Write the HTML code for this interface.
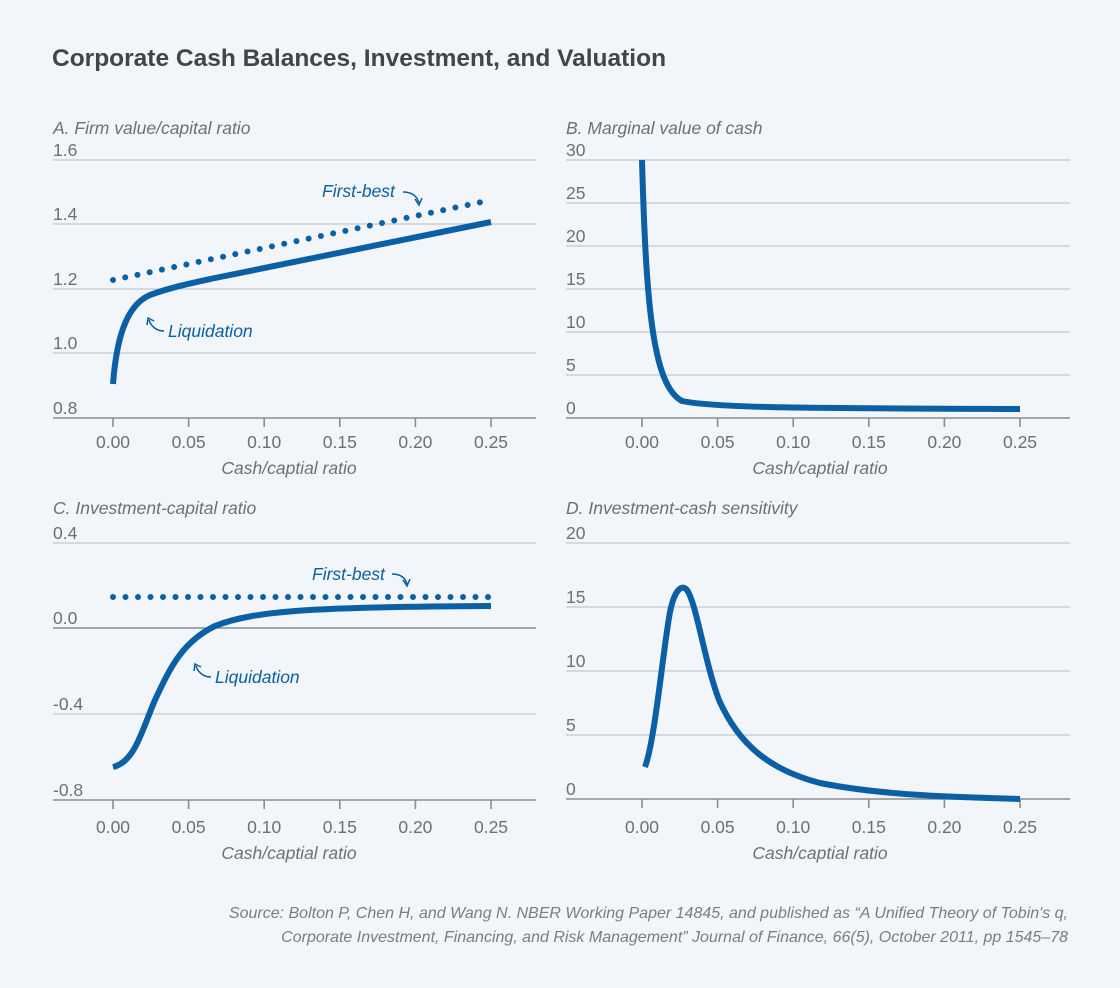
<!DOCTYPE html>
<html><head><meta charset="utf-8"><style>
body{margin:0;background:#f2f6fa;}
svg{display:block;font-family:"Liberation Sans",sans-serif;}
.g{stroke:#c4c7ca;stroke-width:1.3}
.ax{stroke:#8a8d90;stroke-width:1.6}
.t{fill:#6d7073;font-size:17.5px}
.it{fill:#6d7073;font-size:17.5px;font-style:italic}
.c{fill:none;stroke:#0b5fa5;stroke-width:6;stroke-linecap:butt}
.d{fill:none;stroke:#0b5fa5;stroke-width:6;stroke-linecap:round;stroke-dasharray:0 12.5}
.bl{fill:#0b5fa5;font-size:17.5px;font-style:italic}
.ar{fill:none;stroke:#0b5fa5;stroke-width:1.5}
</style></head><body>
<svg width="1120" height="988" viewBox="0 0 1120 988">
<rect width="1120" height="988" fill="#f2f6fa"/>
<text x="52" y="66" font-size="24.5" font-weight="bold" fill="#444">Corporate Cash Balances, Investment, and Valuation</text>

<!-- Panel A -->
<text x="53" y="134" class="it">A.  Firm value/capital ratio</text>
<g class="g"><line x1="53" y1="160" x2="536" y2="160"/><line x1="53" y1="224" x2="536" y2="224"/><line x1="53" y1="289" x2="536" y2="289"/><line x1="53" y1="353" x2="536" y2="353"/></g>
<line class="ax" x1="53" y1="418" x2="536" y2="418"/>
<g class="t"><text x="53" y="156">1.6</text><text x="53" y="220">1.4</text><text x="53" y="285">1.2</text><text x="53" y="349">1.0</text><text x="53" y="414">0.8</text></g>
<g class="ax"><line x1="113" y1="418" x2="113" y2="427"/><line x1="188.6" y1="418" x2="188.6" y2="427"/><line x1="264.2" y1="418" x2="264.2" y2="427"/><line x1="339.8" y1="418" x2="339.8" y2="427"/><line x1="415.4" y1="418" x2="415.4" y2="427"/><line x1="491" y1="418" x2="491" y2="427"/></g>
<g class="t" text-anchor="middle"><text x="113" y="448">0.00</text><text x="188.6" y="448">0.05</text><text x="264.2" y="448">0.10</text><text x="339.8" y="448">0.15</text><text x="415.4" y="448">0.20</text><text x="491" y="448">0.25</text></g>
<text x="289" y="474" class="it" text-anchor="middle">Cash/captial ratio</text>
<path class="d" d="M113,280 L491,200"/>
<path class="c" d="M113,384 C116,345 124,306 150,295 C172,287 192,283 215,278 L491,222"/>
<text x="322" y="197" class="bl">First-best</text>
<path class="ar" d="M403,192 C412,192 417,196 419,203"/><path d="M415,199 L419,205 L422,198" class="ar"/>
<text x="168" y="337" class="bl">Liquidation</text>
<path class="ar" d="M164,331 C156,331 151,326 149,320"/><path d="M147,325 L148,318 L154,321" class="ar"/>

<!-- Panel B -->
<text x="566" y="134" class="it">B.  Marginal value of cash</text>
<g class="g"><line x1="566" y1="160" x2="1070" y2="160"/><line x1="566" y1="203" x2="1070" y2="203"/><line x1="566" y1="246" x2="1070" y2="246"/><line x1="566" y1="289" x2="1070" y2="289"/><line x1="566" y1="332" x2="1070" y2="332"/><line x1="566" y1="375" x2="1070" y2="375"/></g>
<line class="ax" x1="566" y1="418" x2="1070" y2="418"/>
<g class="t"><text x="566" y="156">30</text><text x="566" y="199">25</text><text x="566" y="242">20</text><text x="566" y="285">15</text><text x="566" y="328">10</text><text x="566" y="371">5</text><text x="566" y="414">0</text></g>
<g class="ax"><line x1="642" y1="418" x2="642" y2="427"/><line x1="717.6" y1="418" x2="717.6" y2="427"/><line x1="793.2" y1="418" x2="793.2" y2="427"/><line x1="868.8" y1="418" x2="868.8" y2="427"/><line x1="944.4" y1="418" x2="944.4" y2="427"/><line x1="1020" y1="418" x2="1020" y2="427"/></g>
<g class="t" text-anchor="middle"><text x="642" y="448">0.00</text><text x="717.6" y="448">0.05</text><text x="793.2" y="448">0.10</text><text x="868.8" y="448">0.15</text><text x="944.4" y="448">0.20</text><text x="1020" y="448">0.25</text></g>
<text x="820" y="474" class="it" text-anchor="middle">Cash/captial ratio</text>
<path class="c" d="M642,160 C646,300 652,385 682,401 C715,408 800,408 1020,409"/>

<!-- Panel C -->
<text x="53" y="514" class="it">C.  Investment-capital ratio</text>
<g class="g"><line x1="53" y1="543" x2="536" y2="543"/><line x1="53" y1="714" x2="536" y2="714"/></g>
<line class="ax" x1="53" y1="628" x2="536" y2="628"/>
<line class="ax" x1="53" y1="800" x2="536" y2="800"/>
<g class="t"><text x="53" y="539">0.4</text><text x="53" y="624">0.0</text><text x="53" y="710">-0.4</text><text x="53" y="796">-0.8</text></g>
<g class="ax"><line x1="113" y1="800" x2="113" y2="809"/><line x1="188.6" y1="800" x2="188.6" y2="809"/><line x1="264.2" y1="800" x2="264.2" y2="809"/><line x1="339.8" y1="800" x2="339.8" y2="809"/><line x1="415.4" y1="800" x2="415.4" y2="809"/><line x1="491" y1="800" x2="491" y2="809"/></g>
<g class="t" text-anchor="middle"><text x="113" y="833">0.00</text><text x="188.6" y="833">0.05</text><text x="264.2" y="833">0.10</text><text x="339.8" y="833">0.15</text><text x="415.4" y="833">0.20</text><text x="491" y="833">0.25</text></g>
<text x="289" y="859" class="it" text-anchor="middle">Cash/captial ratio</text>
<path class="d" d="M113,597 L491,597"/>
<path class="c" d="M113,767 C135,762 142,730 155,700 C170,668 182,642 215,626 C255,610 320,607 491,606"/>
<text x="312" y="580" class="bl">First-best</text>
<path class="ar" d="M392,574 C400,574 405,577 407,584"/><path d="M403,580 L407,586 L410,579" class="ar"/>
<text x="215" y="683" class="bl">Liquidation</text>
<path class="ar" d="M211,677 C203,677 198,672 196,666"/><path d="M194,671 L195,664 L201,667" class="ar"/>

<!-- Panel D -->
<text x="566" y="514" class="it">D.  Investment-cash sensitivity</text>
<g class="g"><line x1="566" y1="543" x2="1070" y2="543"/><line x1="566" y1="607" x2="1070" y2="607"/><line x1="566" y1="671" x2="1070" y2="671"/><line x1="566" y1="735" x2="1070" y2="735"/></g>
<line class="ax" x1="566" y1="799" x2="1070" y2="799"/>
<g class="t"><text x="566" y="539">20</text><text x="566" y="603">15</text><text x="566" y="667">10</text><text x="566" y="731">5</text><text x="566" y="795">0</text></g>
<g class="ax"><line x1="642" y1="799" x2="642" y2="808"/><line x1="717.6" y1="799" x2="717.6" y2="808"/><line x1="793.2" y1="799" x2="793.2" y2="808"/><line x1="868.8" y1="799" x2="868.8" y2="808"/><line x1="944.4" y1="799" x2="944.4" y2="808"/><line x1="1020" y1="799" x2="1020" y2="808"/></g>
<g class="t" text-anchor="middle"><text x="642" y="833">0.00</text><text x="717.6" y="833">0.05</text><text x="793.2" y="833">0.10</text><text x="868.8" y="833">0.15</text><text x="944.4" y="833">0.20</text><text x="1020" y="833">0.25</text></g>
<text x="820" y="859" class="it" text-anchor="middle">Cash/captial ratio</text>
<path class="c" d="M645,767 C655,740 663,650 670,612 C674,592 681,583 687,590 C697,605 704,660 719,700 C739,745 770,770 820,783 C880,795 950,797 1020,799"/>

<g fill="#7a7d80" font-size="16" font-style="italic" text-anchor="end">
<text x="1068" y="918">Source: Bolton P, Chen H, and Wang N. NBER Working Paper 14845, and published as “A Unified Theory of Tobin's q,</text>
<text x="1068" y="942">Corporate Investment, Financing, and Risk Management” Journal of Finance, 66(5), October 2011, pp 1545–78</text>
</g>
</svg>
</body></html>
